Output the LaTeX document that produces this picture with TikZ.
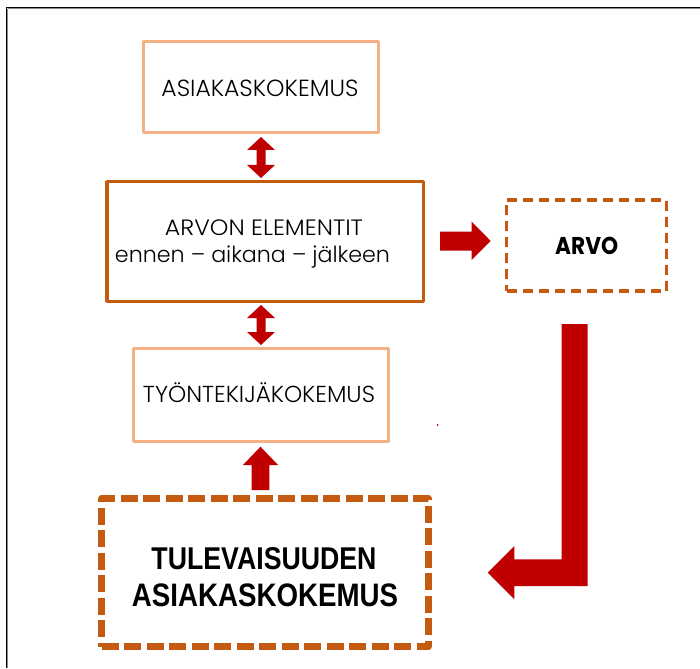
\documentclass[tikz,border=0pt]{standalone}
\usepackage{fontspec}
\setmainfont{Poppins}[UprightFont=* Light, BoldFont=* Bold]
\newfontfamily\headfont{Liberation Sans}
\usetikzlibrary{calc}
\definecolor{lightrim}{HTML}{F4B183}
\definecolor{darkrim}{HTML}{C55A11}
\definecolor{arrowred}{HTML}{C00000}
\tikzset{
  plainbox/.style={draw=lightrim, line width=3pt, rectangle, inner sep=0pt, line join=round},
  mainbox/.style={draw=darkrim, line width=3.5pt, rectangle, inner sep=0pt, line join=round},
  valuebox/.style={draw=darkrim, line width=3.5pt, rectangle, inner sep=0pt, line join=round, dash pattern=on 10pt off 6pt},
  futurebox/.style={draw=darkrim, line width=7pt, rectangle, inner sep=0pt, line join=round, dash pattern=on 17pt off 5.5pt},
  caption/.style={anchor=base, inner sep=0pt, text=black},
  blockarrow/.style={fill=arrowred, draw=none},
}
\begin{document}
\begin{tikzpicture}[x=1pt,y=-1pt]
\useasboundingbox (0,0) rectangle (700,668);
% page frame
\draw[black!45, line width=0.8pt] (8,8.7) -- (700,8.7);
\draw[black!45, line width=0.8pt] (7.7,8.7) -- (7.7,668);
\draw[black, line width=1.4pt] (6.7,7.7) -- (700,7.7);
\draw[black, line width=1.4pt] (6.7,7) -- (6.7,668);

% boxes
\node[plainbox, minimum width=235pt, minimum height=91pt] (customer) at (261,87) {};
\node[mainbox, minimum width=316.5pt, minimum height=119.5pt] (elements) at (265,241.5) {};
\node[plainbox, minimum width=255.3pt, minimum height=93pt] (employee) at (260.8,395.3) {};
\node[futurebox, minimum width=326.4pt, minimum height=148pt] (future) at (265,572.5) {};
\node[valuebox, minimum width=159.8pt, minimum height=91pt] (value) at (586.6,245.5) {};

% texts
\node[caption] (customertxt) at (260,96.7) {\resizebox{197pt}{16.5pt}{ASIAKASKOKEMUS}};
\node[caption] (elementstxt) at (264,235.7) {\resizebox{198pt}{15.7pt}{ARVON ELEMENTIT}};
\node[caption] (phasestxt) at (252.5,262.3) {\resizebox{275pt}{!}{ennen – aikana – jälkeen}};
\node[caption] (employeetxt) at (259,402.7) {\resizebox{232pt}{!}{TYÖNTEKIJÄKOKEMUS}};
\node[caption] (futuretxtA) at (264,569.3) {\resizebox{225pt}{22pt}{\headfont\bfseries TULEVAISUUDEN}};
\node[caption] (futuretxtB) at (265,606) {\resizebox{266pt}{22.7pt}{\headfont\bfseries ASIAKASKOKEMUS}};
\node[caption] (valuetxt) at (586.7,254) {\resizebox{63pt}{17.3pt}{\bfseries ARVO}};

% block arrows
\fill[blockarrow] (261,137) -- (275,150) -- (265.5,150) -- (265.5,165) -- (275,165) -- (261,178)
  -- (247,165) -- (256.5,165) -- (256.5,150) -- (247,150) -- cycle;
\fill[blockarrow] (261,305) -- (275,318) -- (265.5,318) -- (265.5,332) -- (275,332) -- (261,345)
  -- (247,332) -- (256.5,332) -- (256.5,318) -- (247,318) -- cycle;
\fill[blockarrow] (260.5,446.7) -- (278,465) -- (269.3,465) -- (269.3,490) -- (251.7,490)
  -- (251.7,465) -- (243,465) -- cycle;
\fill[blockarrow] (440,231.7) -- (471.7,231.7) -- (471.7,221.7) -- (490.7,241) -- (471.7,260)
  -- (471.7,250.7) -- (440,250.7) -- cycle;
\fill[blockarrow] (561.7,324) -- (587.7,324) -- (587.7,586) -- (514.3,586) -- (514.3,599.3)
  -- (487.7,572.7) -- (514.3,546) -- (514.3,559.3) -- (561.7,559.3) -- cycle;
\fill[arrowred] (437.7,425) circle (1pt);
\end{tikzpicture}
\end{document}
